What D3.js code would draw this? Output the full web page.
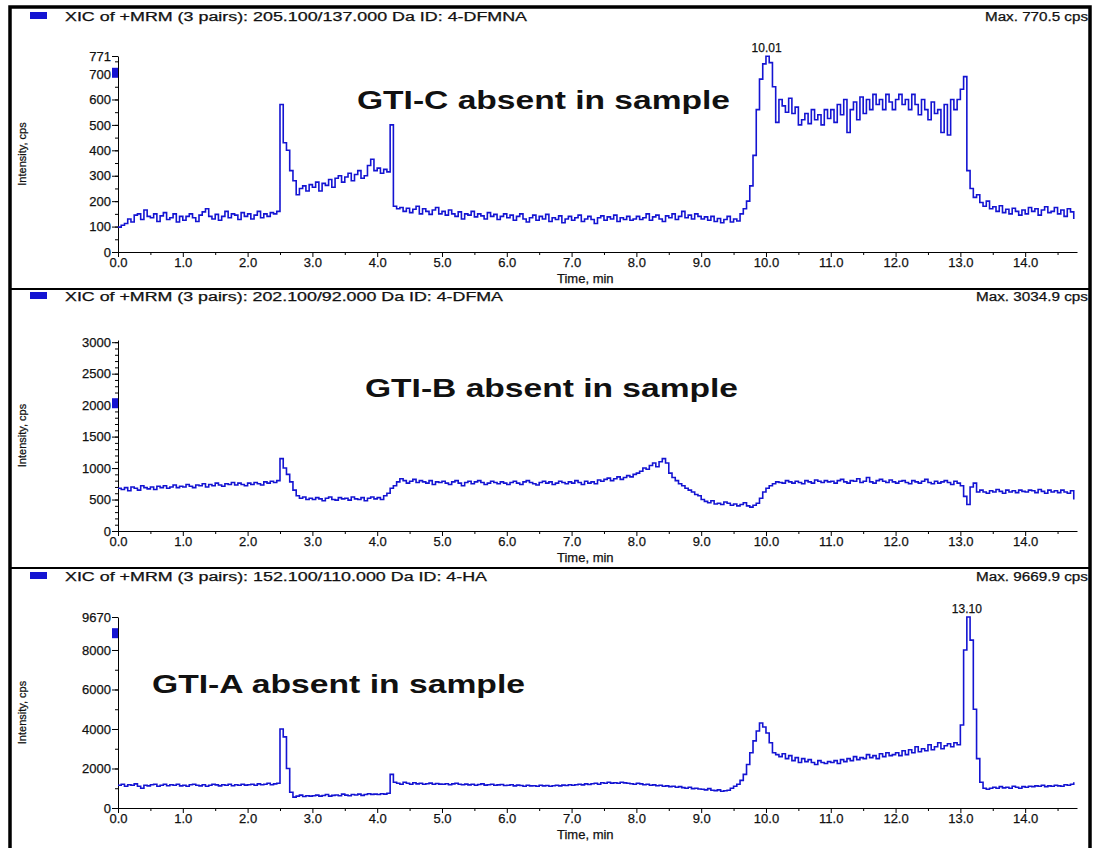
<!DOCTYPE html>
<html>
<head>
<meta charset="utf-8">
<script src="https://cdn.jsdelivr.net/npm/d3@7"></script>
<style>
  body { margin: 0; background: #fff; }
  svg text { font-family: "Liberation Sans", Arial, sans-serif; fill: #111; }
  svg text.small { stroke: #111; stroke-width: 0.25; }
</style>
</head>
<body>
<svg id="chart" width="1093" height="848"></svg>
<script>
// one point every 0.05 min, starting at 0.0 min
const scanStep = 0.05;
const timeTicks = [0, 1, 2, 3, 4, 5, 6, 7, 8, 9, 10, 11, 12, 13, 14];

// GTI-C trace, 205.100/137.000 (cps), rows of 1 min
const gtiC = [
  98,105,112,130,118,145,150,128,165,140,135,150,120,142,155,128,135,150,118,140,
  125,140,150,135,120,145,158,170,140,130,148,125,140,160,135,150,145,128,155,140,
  150,130,145,160,135,150,140,155,150,160,580,430,400,320,280,225,250,260,240,265,
  255,275,240,270,262,285,255,290,300,275,295,310,280,305,320,290,300,340,365,320,
  330,310,325,315,500,180,170,175,160,172,155,168,180,150,170,160,148,165,175,150,
  160,145,165,150,140,158,130,150,145,160,138,150,142,130,155,140,148,128,140,150,
  135,145,125,140,150,130,118,135,145,125,140,130,148,120,135,128,142,115,130,140,
  125,135,145,120,130,140,128,112,135,142,125,138,130,145,120,135,128,140,125,130,
  140,128,135,150,125,138,145,130,120,142,135,150,128,140,160,135,145,130,150,140,
  130,138,125,140,120,132,115,128,140,118,130,122,150,170,200,260,380,560,680,740,
  770,745,650,510,600,575,550,605,545,570,500,520,545,505,560,520,540,500,560,525,
  560,510,580,540,600,470,560,590,520,610,545,600,560,620,580,600,560,620,590,560,
  600,620,580,600,560,620,580,540,600,560,520,590,545,560,470,580,460,600,560,600,
  640,690,320,250,215,225,195,180,200,170,178,160,182,155,168,150,172,160,145,165,
  150,175,160,170,145,165,178,155,160,175,150,165,140,170,158,130
];

// GTI-B trace, 202.100/92.000 (cps)
const gtiB = [
  680,660,690,640,700,680,650,720,690,670,700,660,710,690,720,680,700,730,690,710,
  700,740,710,690,730,720,750,700,740,720,760,730,710,750,740,770,730,760,740,720,
  760,740,770,750,730,780,760,790,770,800,1150,1000,900,780,650,560,520,540,500,520,
  500,530,510,480,520,540,500,490,530,510,520,490,540,510,500,530,480,520,540,510,
  530,500,560,600,680,720,780,830,800,760,790,820,770,800,780,760,800,740,780,770,
  790,760,740,780,800,760,720,770,790,750,780,800,770,740,760,790,770,750,780,760,
  740,770,790,760,740,780,800,770,750,730,770,790,760,780,740,760,790,770,750,780,
  760,800,770,740,790,760,780,750,810,790,820,840,800,830,860,820,850,880,860,900,
  920,950,1000,980,1040,1080,1020,1100,1150,1080,920,850,800,750,720,680,650,620,580,560,
  500,470,450,480,430,440,420,460,440,410,430,400,420,450,400,380,410,440,520,620,
  680,720,750,780,770,760,800,780,760,790,770,750,800,780,760,810,790,770,800,780,
  790,760,800,820,780,760,800,790,830,770,790,850,780,760,800,820,790,770,810,780,
  760,790,800,770,750,800,780,760,790,820,770,750,790,760,780,800,770,740,790,760,
  720,550,420,700,760,620,650,620,600,640,620,660,630,600,650,620,640,610,650,630,
  620,650,640,610,660,630,600,650,620,640,610,650,620,600,640,500
];

// GTI-A trace, 152.100/110.000 (cps)
const gtiA = [
  1150,1200,1100,1180,1150,1220,1100,1000,1150,1120,1180,1200,1100,1150,1200,1130,1180,1150,1200,1120,
  1150,1100,1180,1200,1150,1120,1180,1100,1150,1200,1170,1120,1180,1150,1200,1130,1180,1150,1200,1160,
  1180,1200,1150,1220,1180,1200,1250,1180,1220,1250,4000,3600,2000,800,550,600,650,580,620,600,
  620,650,600,630,680,600,640,660,620,700,650,620,680,660,700,640,680,720,690,700,
  680,720,700,750,1700,1300,1250,1200,1300,1250,1200,1280,1220,1250,1200,1230,1260,1200,1240,1210,
  1200,1230,1180,1220,1250,1200,1180,1210,1170,1200,1150,1190,1220,1160,1180,1200,1150,1170,1190,1140,
  1150,1180,1120,1160,1140,1100,1150,1120,1130,1100,1150,1120,1140,1100,1130,1150,1120,1160,1140,1180,
  1150,1180,1200,1170,1220,1190,1230,1250,1200,1280,1250,1300,1260,1280,1250,1300,1270,1250,1230,1200,
  1250,1220,1180,1200,1150,1170,1130,1150,1100,1120,1080,1100,1050,1080,1030,1000,1050,980,1000,960,
  950,920,980,900,880,920,850,870,900,1000,1100,1200,1400,1700,2200,2800,3400,3900,4300,4100,
  3800,3300,2800,2700,2600,2750,2500,2650,2400,2550,2300,2500,2350,2450,2300,2200,2400,2300,2250,2350,
  2300,2400,2250,2450,2350,2500,2400,2600,2450,2550,2500,2700,2550,2650,2500,2750,2600,2800,2650,2700,
  2800,2650,2900,2700,2950,2800,3100,2850,3000,2900,3200,2950,3100,3300,3000,3150,3250,3100,3300,3200,
  4200,8000,9670,8500,5000,2500,1300,1000,950,1000,1050,1000,1080,1020,1050,1000,1100,1050,1000,1080,
  1050,1100,1080,1120,1100,1150,1080,1120,1100,1150,1120,1100,1180,1150,1200,1300
];

const cTicks = [0, 100, 200, 300, 400, 500, 600, 700, 771];
const bTicks = [0, 500, 1000, 1500, 2000, 2500, 3000];
const aTicks = [0, 2000, 4000, 6000, 8000, 9670];

const headers = [
  "XIC of +MRM (3 pairs): 205.100/137.000 Da ID: 4-DFMNA",
  "XIC of +MRM (3 pairs): 202.100/92.000 Da ID: 4-DFMA",
  "XIC of +MRM (3 pairs): 152.100/110.000 Da ID: 4-HA"
];
const maxLabels = ["Max. 770.5 cps", "Max. 3034.9 cps", "Max. 9669.9 cps"];
const notes = ["GTI-C absent in sample", "GTI-B absent in sample", "GTI-A absent in sample"];

const blue = "#1414d2";
const svg = d3.select("#chart");

const x = d3.scaleLinear().domain([0, 14.8]).range([118, 1077]);

const panels = [
  { values: gtiC, yMax: 771, top: 56, bottom: 252, ticks: cTicks, minor: 50,
    headY: 21, headW: 462, maxW: 103, noteX: 357, noteY: 109, peak: { t: 10.01, v: 770.5 }, marker: 705 },
  { values: gtiB, yMax: 3034.9, top: 340, bottom: 531, ticks: bTicks, minor: 100,
    headY: 301, headW: 438, maxW: 112, noteX: 365, noteY: 397, peak: null, marker: 2030 },
  { values: gtiA, yMax: 9670, top: 617, bottom: 808, ticks: aTicks, minor: 1000,
    headY: 581, headW: 422, maxW: 112, noteX: 152, noteY: 693, peak: { t: 13.10, v: 9669.9 }, marker: 8850 }
];

// frame and panel separators
svg.append("rect")
  .attr("x", 10).attr("y", 7).attr("width", 1080).attr("height", 860)
  .attr("fill", "none").attr("stroke", "#000").attr("stroke-width", 3.5);
[289, 568].forEach(yy => {
  svg.append("line").attr("x1", 10).attr("x2", 1090).attr("y1", yy).attr("y2", yy)
    .attr("stroke", "#000").attr("stroke-width", 2);
});

panels.forEach((p, k) => {
  const y = d3.scaleLinear().domain([0, p.yMax]).range([p.bottom, p.top]);
  const g = svg.append("g");

  // header line
  g.append("rect").attr("x", 30).attr("y", p.headY - 9).attr("width", 17).attr("height", 7)
    .attr("fill", blue);
  g.append("text").attr("class", "small").attr("x", 65).attr("y", p.headY)
    .attr("font-size", 12).attr("textLength", p.headW).attr("lengthAdjust", "spacingAndGlyphs")
    .text(headers[k]);
  g.append("text").attr("class", "small").attr("x", 1088 - p.maxW).attr("y", p.headY)
    .attr("font-size", 12).attr("textLength", p.maxW).attr("lengthAdjust", "spacingAndGlyphs")
    .text(maxLabels[k]);

  // y axis
  g.append("g")
    .attr("transform", `translate(${x(0)},0)`)
    .call(d3.axisLeft(y).tickValues(d3.range(0, p.yMax, p.minor)).tickSize(3).tickFormat(""))
    .call(a => a.select(".domain").remove());
  const yAxis = g.append("g")
    .attr("transform", `translate(${x(0)},0)`)
    .call(d3.axisLeft(y).tickValues(p.ticks).tickSize(6).tickSizeOuter(0).tickPadding(1)
      .tickFormat(d3.format("d")));
  yAxis.selectAll("text").attr("class", "small").attr("font-size", 13).attr("fill", "#111");
  yAxis.selectAll("line, path").attr("stroke", "#000");

  // x axis
  g.append("g")
    .attr("transform", `translate(0,${p.bottom})`)
    .call(d3.axisBottom(x).tickValues(d3.range(0.5, 14.8, 1)).tickSize(3).tickFormat(""))
    .call(a => a.select(".domain").remove());
  const xAxis = g.append("g")
    .attr("transform", `translate(0,${p.bottom})`)
    .call(d3.axisBottom(x).tickValues(timeTicks).tickSize(5).tickSizeOuter(0).tickPadding(1)
      .tickFormat(d3.format(".1f")));
  xAxis.selectAll("text").attr("class", "small").attr("font-size", 13).attr("fill", "#111");
  xAxis.selectAll("line, path").attr("stroke", "#000");

  g.append("text").attr("class", "small").attr("x", 557).attr("y", p.bottom + 31).attr("font-size", 13)
    .text("Time, min");

  g.append("text").attr("class", "small")
    .attr("transform", `translate(26,${(p.top + p.bottom) / 2}) rotate(-90)`)
    .attr("text-anchor", "middle").attr("font-size", 11)
    .text("Intensity, cps");

  // marker flag on the y axis
  g.append("rect").attr("x", x(0) - 6).attr("y", y(p.marker) - 5)
    .attr("width", 6).attr("height", 10).attr("fill", blue);

  // trace
  const line = d3.line()
    .x((d, i) => x(i * scanStep))
    .y(d => y(d))
    .curve(d3.curveStepAfter);
  g.append("path").datum(p.values)
    .attr("d", line)
    .attr("fill", "none").attr("stroke", blue).attr("stroke-width", 1.6);

  if (p.peak) {
    g.append("text").attr("class", "small").attr("x", x(p.peak.t)).attr("y", y(p.peak.v) - 4)
      .attr("text-anchor", "middle").attr("font-size", 12)
      .text(d3.format(".2f")(p.peak.t));
  }

  g.append("text").attr("x", p.noteX).attr("y", p.noteY)
    .attr("font-size", 25).attr("font-weight", "bold")
    .attr("textLength", 373).attr("lengthAdjust", "spacingAndGlyphs")
    .text(notes[k]);
});
</script>
</body>
</html>
